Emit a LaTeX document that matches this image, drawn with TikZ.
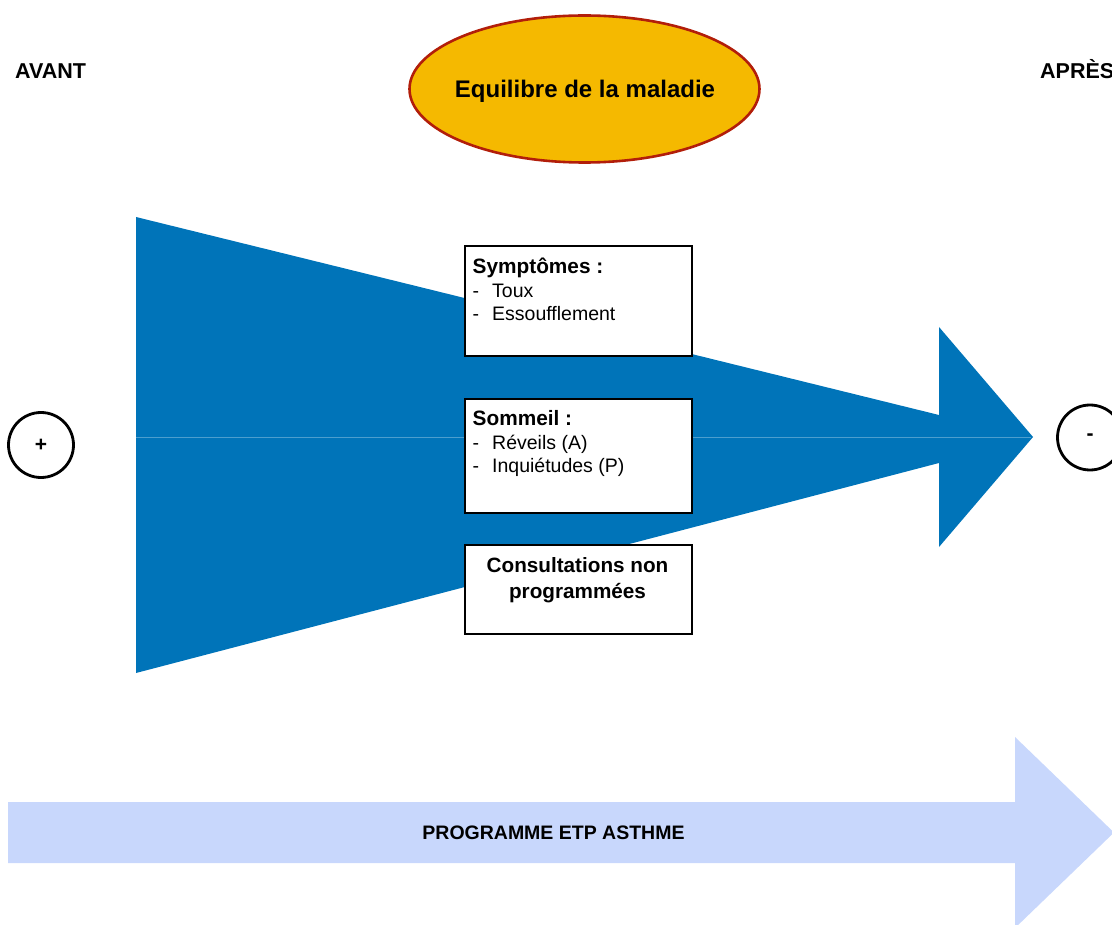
\documentclass[tikz,border=0pt]{standalone}
\usepackage{fontspec}
\setmainfont{Liberation Sans}
\usetikzlibrary{shapes}
\definecolor{flowblue}{RGB}{0,116,185}
\definecolor{progblue}{RGB}{200,215,252}
\definecolor{eqorange}{RGB}{245,185,0}
\definecolor{eqred}{RGB}{178,30,10}

\begin{document}
\begin{tikzpicture}[x=1pt,y=-1pt,
  title node/.style={font=\fontsize{21.5}{24}\selectfont\bfseries,inner sep=0,anchor=base west},
  box node/.style={rectangle,draw,line width=1.6pt,fill=white,minimum width=227pt,minimum height=#1,inner sep=0,anchor=north west},
  list node/.style={font=\fontsize{19.5}{23.5}\selectfont,inner sep=0,anchor=base west},
  sign node/.style={circle,draw,line width=2.8pt,minimum size=65pt,inner sep=0,font=\fontsize{21}{24}\selectfont\bfseries}]
  \useasboundingbox (0,0) rectangle (1112,925);
  \clip (0,0) rectangle (1112,925);

  % funnel and arrow
  \fill[flowblue] (136,217) -- (939,415) -- (939,327) -- (1033,437) -- (939,547) -- (939,463) -- (136,673) -- cycle;
  \draw[flowblue!70!white,line width=.6pt] (136,437) -- (1031,437);

  % programme arrow
  \fill[progblue] (8,802) -- (1015,802) -- (1015,737) -- (1114,832.5) -- (1015,928) -- (1015,863) -- (8,863) -- cycle;
  \node[font=\fontsize{19.5}{22}\selectfont\bfseries] (prog) at (553.5,833) {PROGRAMME ETP ASTHME};

  \node[title node] (avant) at (15,79) {AVANT};
  \node[title node] (apres) at (1040,79) {APRÈS};

  \node[ellipse,draw=eqred,fill=eqorange,line width=2.6pt,minimum width=350pt,minimum height=147pt] (eq) at (584.5,89) {};
  \node[font=\fontsize{24}{28}\selectfont\bfseries,anchor=base] (eqt) at (585,98) {Equilibre de la maladie};

  \node[sign node] (plus) at (41,445) {+};
  \node[sign node] (moins) at (1090,437.5) {-};

  \node[box node=110pt] (1) at (464,245) {};
  \node[list node] (1t) at ([shift={(8.5,29)}]1.north west) {\begin{tabular}[t]{@{}l@{\hspace{13pt}}l@{}}
    \multicolumn{2}{@{}l@{}}{\bfseries\fontsize{20.8}{23.5}\selectfont Symptômes :}\\
    - & Toux\\
    - & Essoufflement
  \end{tabular}};

  \node[box node=114pt] (2) at (464,398) {};
  \node[list node] (2t) at ([shift={(8.5,28)}]2.north west) {\begin{tabular}[t]{@{}l@{\hspace{13pt}}l@{}}
    \multicolumn{2}{@{}l@{}}{\bfseries\fontsize{20.8}{23.5}\selectfont Sommeil :}\\
    - & Réveils (A)\\
    - & Inquiétudes (P)
  \end{tabular}};

  \node[box node=89pt] (3) at (464,544) {};
  \node[font=\fontsize{20.7}{26}\selectfont\bfseries,inner sep=0,anchor=base] (3t) at ([shift={(113.5,28)}]3.north west) {\begin{tabular}[t]{@{}c@{}}
    Consultations non\\ programmées
  \end{tabular}};
\end{tikzpicture}
\end{document}
